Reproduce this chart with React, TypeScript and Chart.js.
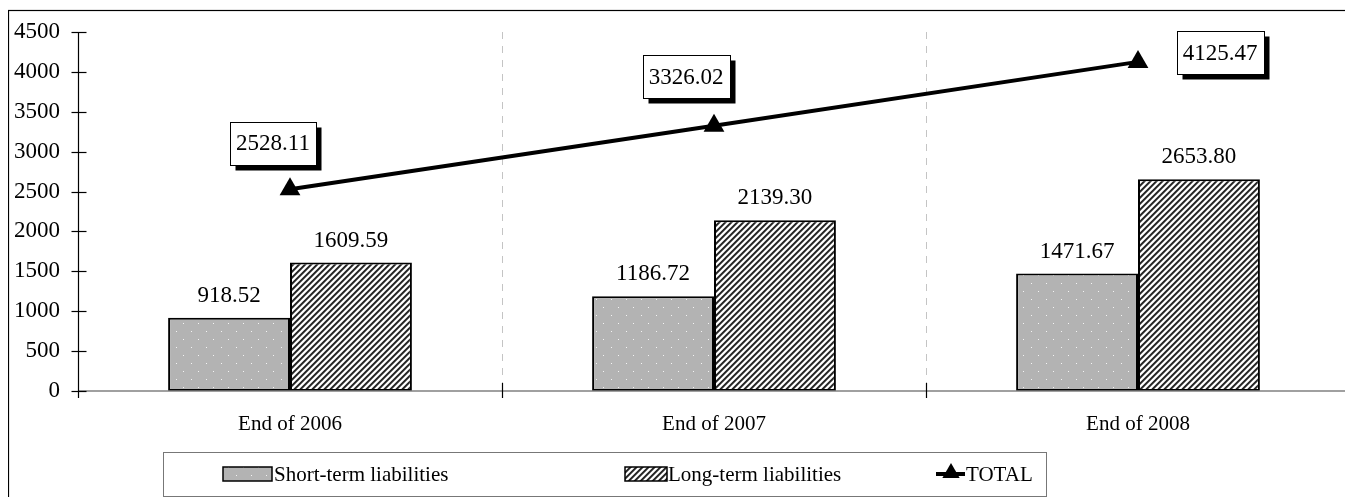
import React, { useEffect, useRef } from 'react';
import { Chart, registerables } from 'chart.js';

Chart.register(...registerables);

const categories = ['End of 2006', 'End of 2007', 'End of 2008'];
const shortTerm = [918.52, 1186.72, 1471.67];
const longTerm = [1609.59, 2139.3, 2653.8];
const total = [2528.11, 3326.02, 4125.47];
const seriesNames = ['Short-term liabilities', 'Long-term liabilities', 'TOTAL'];
const yMin = 0;
const yMax = 4500;
const yStep = 500;

const FONT = '"Liberation Serif", "Times New Roman", serif';
const NUM_SIZE = 23;
const TXT_SIZE = 21;

function makeDotPattern(): CanvasPattern | string {
  const c = document.createElement('canvas');
  c.width = 15;
  c.height = 16;
  const g = c.getContext('2d');
  if (!g) return '#b3b3b3';
  g.fillStyle = '#b3b3b3';
  g.fillRect(0, 0, 15, 16);
  g.fillStyle = '#f4f4f4';
  g.fillRect(3, 3, 1, 1);
  g.fillRect(10, 11, 1, 1);
  return g.createPattern(c, 'repeat') || '#b3b3b3';
}

function makeStripePattern(): CanvasPattern | string {
  const s = 6;
  const c = document.createElement('canvas');
  c.width = s;
  c.height = s;
  const g = c.getContext('2d');
  if (!g) return '#888';
  const img = g.createImageData(s, s);
  for (let y = 0; y < s; y++) {
    for (let x = 0; x < s; x++) {
      const k = (x + y) % s;
      let v = 255;
      if (k === 0 || k === 1) v = 40;
      else if (k === 2) v = 120;
      else if (k === 5) v = 200;
      const i = (y * s + x) * 4;
      img.data[i] = v;
      img.data[i + 1] = v;
      img.data[i + 2] = v;
      img.data[i + 3] = 255;
    }
  }
  g.putImageData(img, 0, 0);
  return g.createPattern(c, 'repeat') || '#888';
}

function drawTriangle(ctx: CanvasRenderingContext2D, x: number, y: number, r: number) {
  ctx.beginPath();
  for (let k = 0; k < 3; k++) {
    const a = (k * 2 * Math.PI) / 3;
    const px = x + Math.sin(a) * r;
    const py = y - Math.cos(a) * r;
    if (k === 0) ctx.moveTo(px, py);
    else ctx.lineTo(px, py);
  }
  ctx.closePath();
  ctx.fill();
}

export default function App() {
  const ref = useRef<HTMLCanvasElement | null>(null);

  useEffect(() => {
    if (!ref.current) return;
    const dots = makeDotPattern();
    const stripes = makeStripePattern();

    const decorPlugin = {
      id: 'decor',
      beforeDatasetsDraw(chart: any) {
        const ctx: CanvasRenderingContext2D = chart.ctx;
        const area = chart.chartArea;
        const xs = chart.scales.x;
        const half = (area.right - area.left) / categories.length / 2;
        ctx.save();
        ctx.strokeStyle = '#c4c4c4';
        ctx.lineWidth = 1;
        ctx.setLineDash([7, 7]);
        for (let i = 0; i < categories.length - 1; i++) {
          const x = Math.round(xs.getPixelForValue(i) + half) + 0.5;
          ctx.beginPath();
          ctx.moveTo(x, area.top);
          ctx.lineTo(x, area.bottom);
          ctx.stroke();
        }
        ctx.restore();
      },
      afterDatasetsDraw(chart: any) {
        const ctx: CanvasRenderingContext2D = chart.ctx;
        const area = chart.chartArea;
        const xs = chart.scales.x;
        const ys = chart.scales.y;
        const half = (area.right - area.left) / categories.length / 2;
        ctx.save();
        // x axis line
        ctx.strokeStyle = '#808080';
        ctx.lineWidth = 1.5;
        ctx.beginPath();
        ctx.moveTo(area.left, area.bottom);
        ctx.lineTo(area.right, area.bottom);
        ctx.stroke();
        // x ticks
        ctx.strokeStyle = '#000';
        ctx.lineWidth = 1.2;
        for (let i = 0; i < categories.length - 1; i++) {
          const x = Math.round(xs.getPixelForValue(i) + half) + 0.5;
          ctx.beginPath();
          ctx.moveTo(x, area.bottom - 8);
          ctx.lineTo(x, area.bottom + 7);
          ctx.stroke();
        }
        // y axis line
        const ax = Math.round(area.left) + 0.5;
        ctx.beginPath();
        ctx.moveTo(ax, area.top);
        ctx.lineTo(ax, area.bottom + 7);
        ctx.stroke();
        for (let v = yMin; v <= yMax; v += yStep) {
          const y = Math.round(ys.getPixelForValue(v)) + 0.5;
          ctx.beginPath();
          ctx.moveTo(ax - 7, y);
          ctx.lineTo(ax + 8, y);
          ctx.stroke();
        }

        // bar labels
        ctx.fillStyle = '#000';
        ctx.font = NUM_SIZE + 'px ' + FONT;
        ctx.textAlign = 'center';
        ctx.textBaseline = 'middle';
        [0, 1].forEach((di) => {
          const meta = chart.getDatasetMeta(di);
          const vals = di === 0 ? shortTerm : longTerm;
          meta.data.forEach((el: any, i: number) => {
            ctx.fillText(vals[i].toFixed(2), el.x, el.y - 22);
          });
        });

        // total labels
        const offs = [
          [-17, -46],
          [-28, -49],
          [82, -9],
        ];
        const lineMeta = chart.getDatasetMeta(2);
        lineMeta.data.forEach((el: any, i: number) => {
          const txt = total[i].toFixed(2);
          const tw = ctx.measureText(txt).width;
          const w = Math.round(tw + 12);
          const h = 43;
          const cx = el.x + offs[i][0];
          const cy = el.y + offs[i][1];
          const bx = Math.round(cx - w / 2) + 0.5;
          const by = Math.round(cy - h / 2) + 0.5;
          ctx.fillStyle = '#000';
          ctx.fillRect(bx + 5, by + 5, w, h);
          ctx.fillStyle = '#fff';
          ctx.fillRect(bx, by, w, h);
          ctx.strokeStyle = '#000';
          ctx.lineWidth = 1;
          ctx.strokeRect(bx, by, w, h);
          ctx.fillStyle = '#000';
          ctx.fillText(txt, cx, cy + 1);
        });
        ctx.restore();
      },
      afterDraw(chart: any) {
        const ctx: CanvasRenderingContext2D = chart.ctx;
        const W = chart.width;
        const H = chart.height;
        ctx.save();
        // outer border
        ctx.strokeStyle = '#000';
        ctx.lineWidth = 1.2;
        ctx.strokeRect(0.5, 2.5, W - 3.5, H + 10);
        // legend box
        const lx = 155, ly = 444, lw = 883, lh = 44;
        ctx.strokeStyle = '#777';
        ctx.lineWidth = 1;
        ctx.strokeRect(lx + 0.5, ly + 0.5, lw, lh);
        const cy = ly + lh / 2;
        ctx.font = TXT_SIZE + 'px ' + FONT;
        ctx.textAlign = 'left';
        ctx.textBaseline = 'middle';
        // swatch 1
        ctx.fillStyle = dots as any;
        ctx.fillRect(215, cy - 7, 49, 14);
        ctx.strokeStyle = '#000';
        ctx.lineWidth = 1.5;
        ctx.strokeRect(215, cy - 7, 49, 14);
        ctx.fillStyle = '#000';
        ctx.fillText(seriesNames[0], 266, cy + 1);
        // swatch 2
        ctx.fillStyle = stripes as any;
        ctx.fillRect(617, cy - 7, 42, 14);
        ctx.strokeRect(617, cy - 7, 42, 14);
        ctx.fillStyle = '#000';
        ctx.fillText(seriesNames[1], 660, cy + 1);
        // line swatch
        ctx.lineWidth = 4;
        ctx.beginPath();
        ctx.moveTo(928, cy);
        ctx.lineTo(957, cy);
        ctx.stroke();
        drawTriangle(ctx, 943, cy - 1, 10);
        ctx.fillText(seriesNames[2], 958, cy + 1);
        ctx.restore();
      },
    };

    const chart = new Chart(ref.current, {
      type: 'bar',
      data: {
        labels: categories,
        datasets: [
          {
            type: 'bar',
            label: seriesNames[0],
            data: shortTerm,
            backgroundColor: dots as any,
            borderColor: '#000',
            borderWidth: 2,
            borderSkipped: false,
            categoryPercentage: 0.575,
            barPercentage: 1,
            order: 1,
          },
          {
            type: 'bar',
            label: seriesNames[1],
            data: longTerm,
            backgroundColor: stripes as any,
            borderColor: '#000',
            borderWidth: 2,
            borderSkipped: false,
            categoryPercentage: 0.575,
            barPercentage: 1,
            order: 2,
          },
          {
            type: 'line',
            label: seriesNames[2],
            data: total,
            borderColor: '#000',
            borderWidth: 4,
            pointStyle: 'triangle',
            pointRadius: 12,
            pointBackgroundColor: '#000',
            pointBorderColor: '#000',
            pointBorderWidth: 0,
            fill: false,
            tension: 0,
            order: 0,
          } as any,
        ],
      },
      options: {
        animation: false,
        responsive: true,
        maintainAspectRatio: false,
        layout: { autoPadding: false, padding: { top: 24, right: 3, left: 0, bottom: 0 } },
        plugins: {
          legend: { display: false },
          tooltip: { enabled: false },
        },
        scales: {
          x: {
            grid: { display: false, drawTicks: false },
            border: { display: false },
            ticks: {
              color: '#000',
              font: { family: FONT, size: TXT_SIZE },
              padding: 21,
              maxRotation: 0,
            },
            afterFit: (s: any) => {
              s.height = 106;
              s.paddingLeft = 0;
              s.paddingRight = 0;
            },
          },
          y: {
            min: yMin,
            max: yMax,
            grid: { display: false, drawTicks: false },
            border: { display: false },
            ticks: {
              stepSize: yStep,
              color: '#000',
              font: { family: FONT, size: NUM_SIZE },
              padding: 18,
              callback: (v: any) => String(v),
            },
            afterFit: (s: any) => {
              s.width = 70;
              s.paddingTop = 0;
              s.paddingBottom = 0;
            },
          },
        },
      },
      plugins: [decorPlugin],
    });
    return () => chart.destroy();
  }, []);

  return (
    <div style={{ width: '1345px', height: '489px', position: 'relative' }}>
      <canvas ref={ref} />
    </div>
  );
}
